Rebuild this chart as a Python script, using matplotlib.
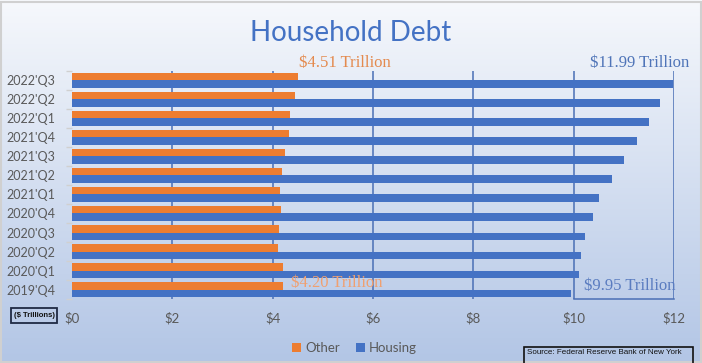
import numpy as np
import matplotlib
matplotlib.use('Agg')
from matplotlib import pyplot
from matplotlib.patches import Rectangle

quarters = ["2019'Q4", "2020'Q1", "2020'Q2", "2020'Q3", "2020'Q4", "2021'Q1",
            "2021'Q2", "2021'Q3", "2021'Q4", "2022'Q1", "2022'Q2", "2022'Q3"]
other = [4.20, 4.20, 4.11, 4.12, 4.17, 4.15, 4.19, 4.24, 4.32, 4.35, 4.44, 4.51]
housing = [9.95, 10.10, 10.15, 10.22, 10.39, 10.50, 10.76, 11.00, 11.26, 11.51, 11.72, 11.99]
x_ticks = [0, 2, 4, 6, 8, 10, 12]
x_labels = ['$0', '$2', '$4', '$6', '$8', '$10', '$12']

ORANGE = '#ED7D31'
BLUE = '#4472C4'
GRAY = '#595959'

pyplot.rcParams['font.family'] = ['Lato', 'DejaVu Sans']

fig = pyplot.figure(figsize=(7.02, 3.63), dpi=100)

# gradient background
bg = fig.add_axes([0, 0, 1, 1], zorder=-10)
top = np.array([0.965, 0.973, 0.988])
bottom = np.array([0.70, 0.775, 0.90])
t = np.linspace(0, 1, 256)[:, None]
grad = top[None, :] * (1 - t) + bottom[None, :] * t
bg.imshow(grad[:, None, :].repeat(2, axis=1), aspect='auto', extent=[0, 1, 0, 1])
bg.set_axis_off()
bg.add_patch(Rectangle((0.001, 0.002), 0.997, 0.993, transform=bg.transAxes,
                       fill=False, edgecolor='#D0D0D0', linewidth=1.5))

ax = fig.add_axes([0.1026, 0.176, 0.8575, 0.629])
ax.patch.set_alpha(0)

y = np.arange(len(quarters))
ax.barh(y + 0.2, other, height=0.4, color=ORANGE, label='Other', zorder=3)
ax.barh(y - 0.2, housing, height=0.4, color=BLUE, label='Housing', zorder=3)

ax.set_xlim(0, 12)
ax.set_ylim(-0.5, len(quarters) - 0.5)
ax.set_xticks(x_ticks)
ax.set_xticklabels(x_labels)
ax.set_yticks(y)
ax.set_yticklabels(quarters)
ax.set_yticks(np.arange(-0.5, len(quarters), 1), minor=True)
ax.tick_params(axis='x', length=0, pad=9, labelsize=9.5, labelcolor=GRAY)
ax.tick_params(axis='y', which='major', length=0, pad=12, labelsize=9, labelcolor=GRAY)
ax.tick_params(axis='y', which='minor', length=4, color='#D0D0D0', width=1)
for spine in ax.spines.values():
    spine.set_visible(False)

for xv in x_ticks[1:]:
    ax.axvline(xv, color='#4A6FB5', linewidth=1.1, zorder=1)
ax.plot([10, 12], [-0.5, -0.5], color='#4A6FB5', linewidth=1.1, clip_on=False, zorder=1)

serif = ['Liberation Serif', 'DejaVu Serif']
ax.text(4.52, 11.9, '$4.51 Trillion', color='#E48A4E', fontsize=12, family=serif,
        va='center', ha='left', clip_on=False)
ax.text(11.31, 11.9, '$11.99 Trillion', color='#4F74B8', fontsize=12, family=serif,
        va='center', ha='center', clip_on=False)
ax.text(4.37, 0.34, '$4.20 Trillion', color='#F0A070', fontsize=12, family=serif,
        va='center', ha='left', zorder=4)
ax.text(10.2, 0.19, '$9.95 Trillion', color='#5A7CC0', fontsize=12, family=serif,
        va='center', ha='left', zorder=4)

fig.text(0.5, 0.909, 'Household Debt', color=BLUE, fontsize=20, ha='center', va='center')

leg = ax.legend(loc='center', bbox_to_anchor=(0.505, 0.041), bbox_transform=fig.transFigure,
                ncol=2, frameon=False, fontsize=9.5, handlelength=0.7, handleheight=0.7,
                handletextpad=0.3, columnspacing=1.2)
for txt in leg.get_texts():
    txt.set_color(GRAY)

# small boxes
sans = ['Liberation Sans', 'DejaVu Sans']
fig.patches.append(Rectangle((11 / 702, 1 - 323 / 363), 46 / 702, 15 / 363,
                             transform=fig.transFigure, fill=False,
                             edgecolor='#1F2A44', linewidth=1.3))
fig.text(34 / 702, 1 - 315.5 / 363, '($ Trillions)', fontsize=5.5, fontweight='bold',
         family=sans, ha='center', va='center', color='#111111')
fig.patches.append(Rectangle((524 / 702, -0.01), 169 / 702, 1 - 347 / 363 + 0.01,
                             transform=fig.transFigure, fill=False,
                             edgecolor='#111111', linewidth=1.2))
fig.text(527 / 702, 1 - 353 / 363, 'Source: Federal Reserve Bank of New York', fontsize=5.8,
         family=sans, ha='left', va='center', color='#111111')

fig.savefig('out.png', dpi=100)
pyplot.close(fig)
